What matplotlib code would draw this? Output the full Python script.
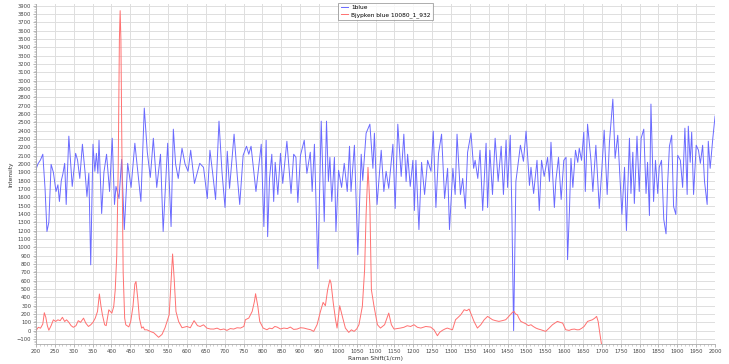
import matplotlib
matplotlib.use("Agg")
import matplotlib.pyplot as plt
from matplotlib.ticker import MultipleLocator

# ---- data ----
blue_x = [200, 205, 212, 218, 224, 229, 234, 240, 246, 253, 258, 262, 267, 271, 276, 280, 287, 296, 305, 310,
          316, 323, 330, 335, 340, 345, 351, 356, 360, 364, 367, 374, 380, 387, 395, 402, 408, 412, 420, 427,
          434, 443, 452, 462, 470, 478, 487, 495, 503, 511, 520, 530, 537, 549, 558, 564, 570, 577, 587, 595,
          603, 610, 620, 634, 644, 654, 661, 668, 676, 685, 693, 701, 707, 713, 725, 734, 740, 749, 758, 764,
          770, 783, 797, 804, 810, 814, 819, 825, 830, 834, 841, 848, 854, 865, 876, 883, 889, 894, 901, 911,
          918, 927, 932, 938, 947, 956, 964, 970, 975, 979, 984, 991, 995, 1002, 1010, 1017, 1025, 1031, 1035, 1044,
          1053, 1062, 1066, 1075, 1085, 1093, 1097, 1104, 1115, 1122, 1128, 1135, 1146, 1152, 1159, 1168, 1175, 1181, 1185, 1192,
          1199, 1203, 1207, 1215, 1222, 1230, 1238, 1247, 1253, 1260, 1267, 1275, 1283, 1291, 1296, 1305, 1311, 1316, 1325, 1331,
          1338, 1344, 1353, 1360, 1364, 1371, 1377, 1384, 1393, 1397, 1403, 1410, 1417, 1425, 1433, 1439, 1446, 1450, 1457, 1461,
          1466, 1472, 1484, 1492, 1499, 1508, 1512, 1519, 1528, 1534, 1540, 1547, 1556, 1561, 1565, 1574, 1578, 1585, 1592, 1599,
          1605, 1609, 1614, 1618, 1623, 1630, 1636, 1640, 1646, 1652, 1656, 1662, 1671, 1676, 1684, 1689, 1693, 1700, 1706, 1714,
          1720, 1729, 1735, 1742, 1748, 1753, 1760, 1765, 1773, 1777, 1782, 1786, 1793, 1799, 1804, 1811, 1817, 1821, 1826, 1830,
          1837, 1842, 1848, 1852, 1858, 1864, 1870, 1874, 1879, 1885, 1890, 1896, 1901, 1908, 1914, 1920, 1926, 1929, 1934, 1938,
          1943, 1950, 1956, 1961, 1967, 1972, 1979, 1982, 1987, 1994, 2000]
blue_y = [1936, 2000, 2050, 2117, 1700, 1190, 1300, 1996, 1900, 1670, 1750, 1550, 1800, 1876, 2008, 1514, 2334, 1731, 2128, 2050,
          1827, 2237, 1900, 1610, 1888, 790, 2237, 1912, 2128, 1888, 2285, 1406, 1900, 2117, 1670, 2309, 1514, 1731, 1586, 2056,
          1213, 2008, 1719, 2249, 1900, 1550, 2671, 2141, 1839, 2309, 1719, 2117, 1190, 2249, 1249, 2418, 2000, 1827, 2189, 2000,
          1912, 2165, 1767, 2008, 1960, 1586, 2165, 1900, 1574, 2514, 1900, 1478, 2153, 1707, 2358, 1827, 1514, 2104, 2213, 2117,
          2213, 1670, 2237, 1249, 2285, 1128, 1827, 2117, 1550, 2020, 1634, 2128, 1767, 2273, 1646, 2117, 2080, 1538, 2104, 2285,
          1888, 2141, 1670, 2237, 743, 2514, 1310, 2514, 1790, 2080, 1550, 2080, 1190, 1924, 1719, 2008, 1670, 2213, 1670, 2225,
          912, 2117, 1803, 2370, 2478, 1948, 2370, 1514, 2165, 1670, 1912, 1707, 2237, 1466, 2478, 1851, 2358, 1790, 2117, 1731,
          2044, 1442, 2044, 1213, 2020, 1634, 2044, 1912, 2394, 1478, 2128, 2358, 1586, 1948, 1213, 1948, 1634, 2358, 1634, 1827,
          1466, 2141, 2370, 1948, 2044, 1827, 2165, 1442, 2249, 1478, 2165, 1634, 2309, 1790, 2213, 1634, 2285, 1719, 2345, 1526,
          0, 1790, 2225, 2032, 2394, 1743, 1960, 1646, 2044, 1442, 2044, 1851, 2080, 1790, 2261, 1478, 1803, 2080, 1574, 2044,
          2080, 852, 1442, 2068, 1719, 2165, 2020, 2189, 2044, 2382, 1670, 2478, 2044, 1670, 2225, 1790, 1466, 1948, 2406, 1634,
          2261, 2779, 2068, 2345, 1839, 1394, 1960, 1201, 2309, 1646, 2141, 1526, 2334, 1670, 2309, 2418, 1646, 2020, 1382, 2719,
          1550, 2044, 1646, 1960, 2044, 1334, 1162, 1743, 2213, 2345, 1490, 1394, 2104, 2044, 1719, 2430, 1634, 2454, 2020, 2382,
          1634, 2225, 2165, 2008, 2225, 1790, 1514, 2273, 1948, 2309, 2575]

red_x = [200, 206, 212, 218, 222, 226, 230, 234, 240, 246, 252, 258, 264, 270, 276, 281, 287, 293, 299, 306,
         312, 318, 326, 332, 339, 345, 351, 357, 363, 368, 372, 376, 382, 386, 393, 397, 401, 406, 410, 414,
         418, 421, 423, 425, 428, 431, 435, 438, 446, 451, 457, 462, 465, 470, 474, 480, 484, 488, 494, 503,
         512, 525, 534, 542, 548, 553, 559, 562, 566, 571, 578, 587, 600, 609, 619, 628, 635, 644, 653, 662,
         671, 680, 689, 698, 706, 715, 724, 733, 742, 751, 755, 764, 773, 779, 782, 788, 793, 802, 812, 819,
         826, 833, 839, 848, 857, 866, 874, 883, 892, 901, 910, 919, 928, 936, 945, 954, 961, 967, 973, 979,
         982, 988, 994, 998, 1005, 1012, 1020, 1029, 1036, 1043, 1050, 1056, 1065, 1071, 1075, 1080, 1085, 1089, 1096, 1105,
         1113, 1124, 1135, 1142, 1149, 1158, 1166, 1175, 1184, 1193, 1202, 1211, 1220, 1233, 1246, 1255, 1264, 1270, 1277, 1284,
         1290, 1297, 1304, 1312, 1319, 1326, 1335, 1342, 1348, 1354, 1361, 1370, 1379, 1388, 1397, 1404, 1410, 1418, 1427, 1436,
         1445, 1451, 1457, 1463, 1467, 1471, 1476, 1480, 1485, 1498, 1505, 1512, 1518, 1525, 1531, 1538, 1545, 1551, 1560, 1569,
         1575, 1582, 1589, 1596, 1604, 1613, 1620, 1627, 1634, 1640, 1647, 1653, 1662, 1668, 1675, 1681, 1686, 1690, 1697, 1705]
red_y = [0, 40, 30, 80, 215, 160, 60, 5, 60, 130, 110, 130, 120, 160, 110, 130, 100, 60, 40, 60,
         120, 100, 150, 90, 50, 70, 100, 150, 230, 440, 300, 190, 70, 60, 250, 230, 210, 290, 490, 900,
         2000, 3500, 3840, 3500, 2000, 700, 150, 70, 45, 110, 290, 560, 590, 370, 150, 30, 45, 10, 10, -10,
         -25, -80, -45, 35, 120, 190, 670, 920, 640, 230, 110, 35, 50, 35, 120, 60, 50, 70, 30, 20,
         19, 30, 11, 20, 3, 25, 19, 35, 31, 51, 131, 151, 231, 351, 443, 291, 111, 31, 11, 30,
         23, 50, 43, 20, 31, 25, 43, 15, 19, 35, 31, 20, 11, -9, 71, 231, 339, 299, 491, 611,
         571, 331, 131, 31, 299, 171, 31, -21, 10, -9, 20, 71, 291, 731, 1400, 1960, 1500, 491, 291, 71,
         31, 71, 211, 71, 19, 25, 31, 40, 59, 50, 71, 40, 31, 50, 43, 10, -61, -20, 3, 20,
         31, 20, 11, 131, 160, 191, 251, 240, 259, 191, 111, 31, 71, 131, 171, 150, 131, 120, 111, 120,
         131, 160, 191, 220, 231, 200, 191, 150, 111, 83, 60, 71, 50, 31, 20, 11, 0, -9, 30, 71,
         90, 111, 100, 91, 11, 3, 15, 19, 10, 11, 30, 51, 111, 120, 131, 150, 171, 111, -109, -320]

blue_label = "1blue"
red_label = "Bjypken blue 10080_1_932"

# ---- figure ----
fig = plt.figure(figsize=(7.29, 3.64), dpi=100)
ax = fig.add_axes([0.0494, 0.055, 0.9315, 0.934])

ax.plot(blue_x, blue_y, color="#6a6aff", lw=0.7, label=blue_label)
ax.plot(red_x, red_y, color="#ff7070", lw=0.7, label=red_label)

ax.set_xlim(200, 2000)
ax.set_ylim(-160, 3920)
ax.xaxis.set_major_locator(MultipleLocator(50))
ax.xaxis.set_minor_locator(MultipleLocator(10))
ax.yaxis.set_major_locator(MultipleLocator(100))
ax.yaxis.set_minor_locator(MultipleLocator(20))
ax.set_yticks(range(-100, 4000, 100))

ax.grid(True, which="major", color="#dedede", lw=0.7)
ax.set_axisbelow(True)
ax.tick_params(which="major", labelsize=3.8, labelcolor="#444444", length=2, width=0.5, color="#999999", pad=1.5)
ax.tick_params(which="minor", length=1.2, width=0.4, color="#aaaaaa")
for side in ["top", "right"]:
    ax.spines[side].set_visible(False)
for side in ["left", "bottom"]:
    ax.spines[side].set_color("#aaaaaa")
    ax.spines[side].set_linewidth(0.6)

ax.set_xlabel("Raman Shift(1/cm)", fontsize=4.2, color="#333333", labelpad=1.5)
ax.set_ylabel("Intensity", fontsize=4.2, color="#333333", labelpad=2)

leg = fig.legend(loc="upper center", bbox_to_anchor=(0.529, 1.0), fontsize=4.2, frameon=True,
                 fancybox=False, edgecolor="#888888", handlelength=1.2, borderpad=0.4,
                 labelspacing=0.3, handletextpad=0.6)
leg.get_frame().set_linewidth(0.6)

fig.savefig("out.png", dpi=100)
